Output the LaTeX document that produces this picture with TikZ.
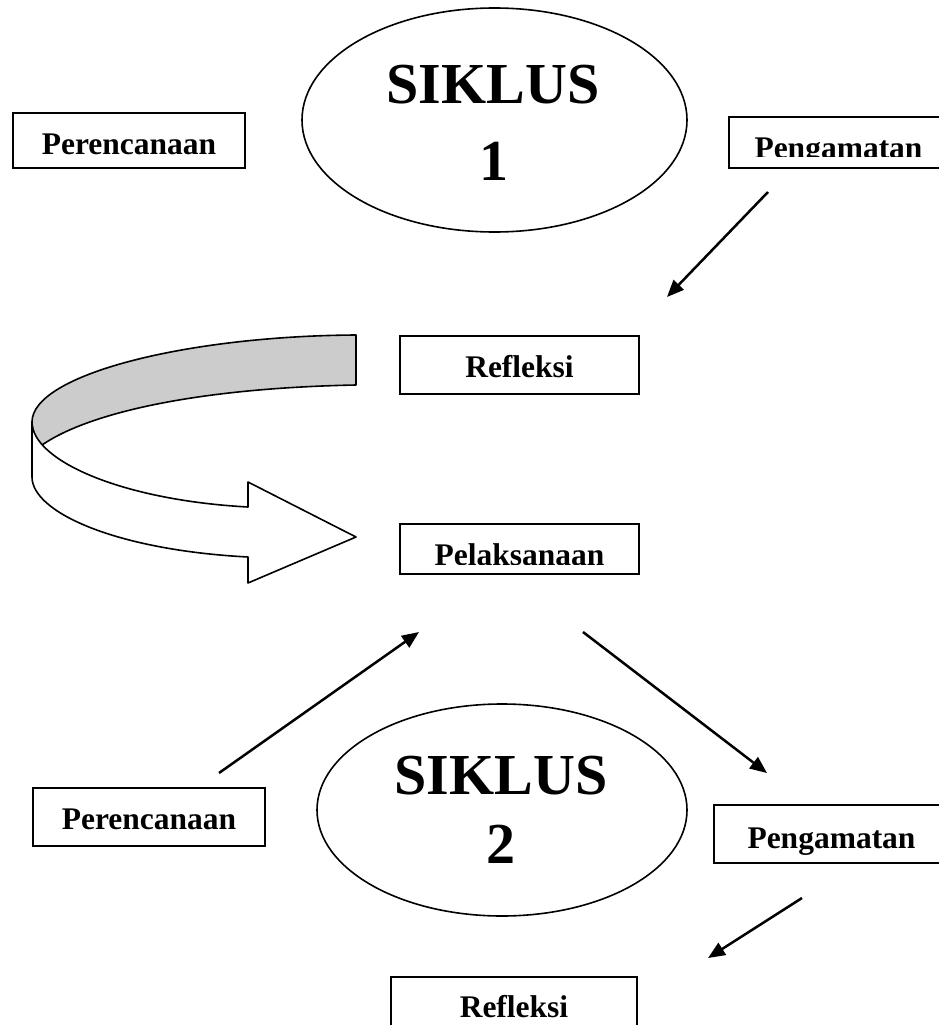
\documentclass[tikz,border=0pt]{standalone}
\usepackage{fontspec}
\setmainfont{Liberation Serif}
\usetikzlibrary{arrows.meta,shapes.geometric}
\definecolor{ribbongray}{HTML}{CCCCCC}
\tikzset{
  box/.style={draw, line width=2pt, inner sep=0pt, anchor=north west, align=center,
    font=\fontsize{31.5}{36}\selectfont\bfseries},
  oval/.style={draw, ellipse, line width=1.6pt, inner sep=0pt},
  big/.style={anchor=base, inner sep=0pt, font=\fontsize{58}{66}\selectfont\bfseries},
  conn/.style={line width=2.5pt, -{Triangle[length=17pt,width=14pt]}},
  ribbon/.style={line width=1.6pt, line join=round}
}
\begin{document}
\begin{tikzpicture}[x=1pt,y=-1pt]
\useasboundingbox (0,0) rectangle (938,1025);

% ---- ellipses ----
\node[oval, minimum width=385pt, minimum height=224pt] (e1) at (494.5,120) {};
\node[big] (s1a) at (493,103) {SIKLUS};
\node[big] (s1b) at (494,180) {1};
\node[oval, minimum width=370pt, minimum height=212pt] (e2) at (502,810) {};
\node[big] (s2a) at (501,794) {SIKLUS};
\node[big] (s2b) at (501,863) {2};

% ---- boxes ----
\node[box, minimum width=232pt, text height=41pt, text depth=14pt] (plan1) at (12,112) {Perencanaan};
\node[box, minimum width=219pt, text height=41pt, text depth=10pt] (obs1) at (728,116) {Pengamatan};
\fill[white] ([xshift=2pt,yshift=1.6pt]obs1.south west) rectangle ([xshift=-2pt,yshift=12pt]obs1.south east);
\node[box, minimum width=239pt, text height=41pt, text depth=17pt] (ref1) at (399,335) {Refleksi};
\node[box, minimum width=239pt, text height=41pt, text depth=9pt] (pel) at (399,523) {Pelaksanaan};
\fill[white] ([xshift=2pt,yshift=1.6pt]pel.south west) rectangle ([xshift=-2pt,yshift=10pt]pel.south east);
\node[box, minimum width=232pt, text height=41pt, text depth=17pt] (plan2) at (32,787) {Perencanaan};
\node[box, minimum width=235pt, text height=43pt, text depth=15pt] (obs2) at (713,804) {Pengamatan};
\node[box, minimum width=246pt, text height=40pt, text depth=24pt] (ref2) at (390,976) {Refleksi};

% ---- straight arrows ----
\coordinate (a1s) at (768,192); \coordinate (a1e) at (667,297);
\coordinate (a2s) at (219,773); \coordinate (a2e) at (419,632);
\coordinate (a3s) at (583,632); \coordinate (a3e) at (767,773);
\coordinate (a4s) at (802,898); \coordinate (a4e) at (708,958);
\draw[conn] (a1s) -- (a1e);
\draw[conn] (a2s) -- (a2e);
\draw[conn] (a3s) -- (a3e);
\draw[conn] (a4s) -- (a4e);

% ---- curved ribbon arrow ----
\draw[ribbon, fill=ribbongray] (356,335) .. controls (185,336) and (32,375) .. (32,422)
  .. controls (32,432) and (36,440) .. (42,445)
  .. controls (90,412) and (200,388) .. (356,385) -- cycle;
\draw[ribbon, fill=white] (32,422) .. controls (32,460) and (120,500) .. (248,507)
  -- (248,482) -- (356,537) -- (248,583) -- (248,557)
  .. controls (115,550) and (32,512) .. (32,477) -- cycle;
\end{tikzpicture}
\end{document}
